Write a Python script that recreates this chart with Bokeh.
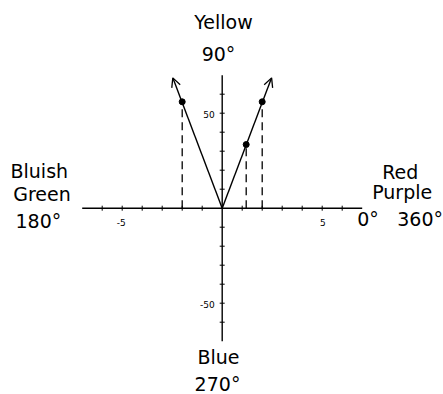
import numpy as np
from bokeh.plotting import figure
from bokeh.models import Range1d, ColumnDataSource, Arrow, OpenHead
from bokeh.core.properties import value
from bokeh.embed import file_html
from bokeh.resources import INLINE

# ---- data ----
x_axis_limit = 7
y_axis_limit = 70
x_ticks = [-6, -5, -4, -3, -2, -1, 1, 2, 3, 4, 5, 6]
y_ticks = [-60, -50, -40, -30, -20, -10, 10, 20, 30, 40, 50, 60]
x_tick_label_pos = [-5, 5]
x_tick_labels = ["-5", "5"]
y_tick_label_pos = [50, -50]
y_tick_labels = ["50", "-50"]
vector_x = [-2.47, 2.47]
vector_y = [68.6, 68.6]
point_x = [-2.0, 1.2, 2.0]
point_y = [56.0, 33.5, 56.0]
hue_labels = ["Yellow", "90°", "Bluish", "Green", "180°", "Red", "Purple",
              "0°", "360°", "Blue", "270°"]

# ---- layout ----
W, H = 443, 394
OX, OY = 221.7, 207.7   # origin in canvas pixels
SX, SY = 20.0, 1.9      # pixels per data unit

def dx(sx):
    return (sx - OX) / SX

def dy(sy):
    return (OY - sy) / SY

p = figure(width=W, height=H, output_backend="svg", toolbar_location=None,
           x_range=Range1d(-OX / SX, (W - OX) / SX),
           y_range=Range1d(-(H - OY) / SY, OY / SY),
           min_border=0, outline_line_color=None)
p.axis.visible = False
p.grid.visible = False
p.background_fill_color = "white"
p.border_fill_color = "white"

FONT = value("DejaVu Sans")

# axes
p.segment(x0=[-x_axis_limit, 0], y0=[0, -y_axis_limit],
          x1=[x_axis_limit, 0], y1=[0, y_axis_limit],
          line_color="black", line_width=1.4)
p.scatter(x=x_ticks, y=[0] * len(x_ticks), marker="dash", angle=np.pi / 2,
          size=5, line_color="black", line_width=1)
p.scatter(x=[0] * len(y_ticks), y=y_ticks, marker="dash",
          size=5, line_color="black", line_width=1)

# tick labels
p.text(x=x_tick_label_pos, y=[0] * 2, text=x_tick_labels, x_offset=3.5, y_offset=14,
       text_align="right", text_baseline="middle", text_font=FONT,
       text_font_size="9px", text_color="black")
p.text(x=[0] * 2, y=y_tick_label_pos, text=y_tick_labels, x_offset=-7.4, y_offset=1,
       text_align="right", text_baseline="middle", text_font=FONT,
       text_font_size="9px", text_color="black")

# dashed drop lines
p.segment(x0=point_x, y0=[0] * len(point_x), x1=point_x, y1=point_y,
          line_color="black", line_width=1.3, line_dash="8 5")

# vectors
src = ColumnDataSource(dict(x0=[0, 0], y0=[0, 0], x1=vector_x, y1=vector_y))
p.add_layout(Arrow(source=src, x_start="x0", y_start="y0", x_end="x1", y_end="y1",
                   line_color="black", line_width=1.4,
                   end=OpenHead(size=9, line_color="black", line_width=1.3)))
p.scatter(x=point_x, y=point_y, size=6, color="black")

# hue labels (x, vertical centre, alignment) in page pixels
pos = [(223, 21.7, "center"), (218, 53.3, "center"), (10, 170, "left"),
       (12.7, 193, "left"), (15, 220, "left"), (381.7, 171.5, "left"),
       (371.7, 191, "left"), (356.7, 218, "left"), (396.7, 218, "left"),
       (218, 356, "center"), (217, 383, "center")]
for t, (sx, sy, al) in zip(hue_labels, pos):
    p.text(x=[dx(sx)], y=[dy(sy)], text=[t], text_align=al,
           text_baseline="middle", text_font=FONT,
           text_font_size="19px", text_color="black")

open("out.html", "w").write(file_html(p, INLINE))
